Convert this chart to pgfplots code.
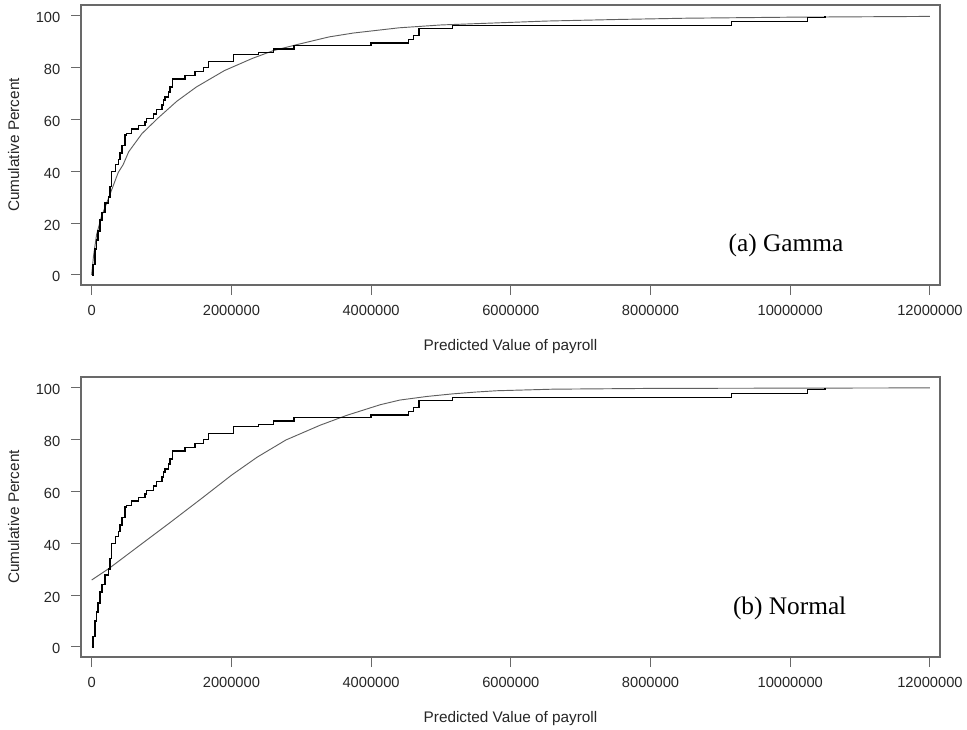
\documentclass[border=0pt]{standalone}
\usepackage{fontspec}
\setmainfont{Liberation Serif}
\newfontfamily\lsans{Liberation Sans}
\usepackage{pgfplots}
\usepackage{pgfplotstable}
\pgfplotsset{compat=1.18}

\pgfplotstableread{
x y
0 0
19000 4
47000 10
72000 13.5
90000 17
119000 21.2
147000 24
190000 27.8
238000 30
262000 34
286000 39.8
344000 42.5
381000 44.5
405000 47
434000 50
477000 54
501000 54.6
573000 56.2
667000 57.6
763000 59
787000 60.4
882000 62
930000 63.8
1006000 65.5
1025000 67.5
1049000 68.6
1097000 70.5
1121000 72.5
1154000 75.5
1336000 76.9
1479000 78.5
1598000 80.1
1669000 82.2
2027000 84.9
2385000 85.8
2600000 87.2
2896000 88.5
4000000 89.5
4537000 90.9
4607000 92.4
4686000 95.0
5165000 96.2
9156000 97.7
10250000 99.3
10500000 100
}\ecdf

\pgfplotstableread{
x y
0 0
25000 7
70000 15.5
140000 22.5
240000 29.5
310000 34.5
380000 39.5
450000 42.5
530000 47.5
720000 54.5
950000 60.5
1220000 67
1500000 72.5
1900000 78.8
2300000 83.5
2600000 86.5
2950000 88.9
3400000 91.8
3750000 93.3
4400000 95.3
5000000 96.4
5800000 97.2
6500000 97.9
7500000 98.5
8500000 99.0
10000000 99.4
12000000 99.7
}\gammafit

\pgfplotstableread{
x y
0 25.8
250000 30.3
630000 38.0
1100000 47.5
1590000 57.6
2000000 66.2
2370000 73.2
2780000 79.8
3270000 85.5
3650000 89.3
4130000 93.4
4410000 95.2
4800000 96.6
5170000 97.6
5500000 98.3
5800000 98.8
6600000 99.4
8000000 99.7
12000000 99.9
}\normalfit

\definecolor{boxgray}{RGB}{105,105,105}
\definecolor{fitgray}{RGB}{95,95,95}

\pgfplotsset{
  panel/.style={
    scale only axis,
    width=644.25pt, height=210pt,
    xmin=-153000, xmax=12144000,
    ymin=-3.9, ymax=104.1,
    axis line style={draw=boxgray, line width=0.8pt},
    tick pos=left,
    tick align=outside,
    major tick length=7.5pt,
    tick style={draw=boxgray, line width=0.8pt},
    scaled x ticks=false,
    xtick={0,2000000,4000000,6000000,8000000,10000000,12000000},
    xticklabels={0,2000000,4000000,6000000,8000000,10000000,12000000},
    ytick={0,20,40,60,80,100},
    yticklabels={0,20,40,60,80,100},
    /pgf/number format/assume math mode=true,
    ticklabel style={font=\lsans\fontsize{11}{13}\selectfont, text=black!85},
    xticklabel style={yshift=-4.5pt},
    yticklabel style={xshift=-4.5pt, yshift=-1.5pt},
    label style={font=\lsans\fontsize{11.5}{13}\selectfont, text=black!85},
    xlabel={Predicted Value of payroll},
    ylabel={Cumulative Percent},
    xlabel style={at={(axis description cs:0.5,0)}, anchor=center, yshift=-46pt},
    ylabel style={at={([xshift=-50.5pt]axis description cs:0,0.5)}, anchor=center},
    clip=true,
  }
}

\begin{document}
\begin{tikzpicture}
\path[use as bounding box] (0,0) rectangle (725.25pt,546.75pt);

\begin{axis}[panel, at={(60.75pt,333pt)}, anchor=south west]
  \addplot[fitgray, line width=0.7pt] table[x=x,y=y] {\gammafit};
  \addplot[black, line width=1.05pt, const plot mark left] table[x=x,y=y] {\ecdf};
  \node[font=\fontsize{19}{22}\selectfont] at (rel axis cs:0.8207,0.142) {(a) Gamma};
\end{axis}

\begin{axis}[panel, at={(60.75pt,54pt)}, anchor=south west]
  \addplot[fitgray, line width=0.7pt] table[x=x,y=y] {\normalfit};
  \addplot[black, line width=1.05pt, const plot mark left] table[x=x,y=y] {\ecdf};
  \node[font=\fontsize{19}{22}\selectfont] at (rel axis cs:0.825,0.175) {(b) Normal};
\end{axis}
\end{tikzpicture}
\end{document}
